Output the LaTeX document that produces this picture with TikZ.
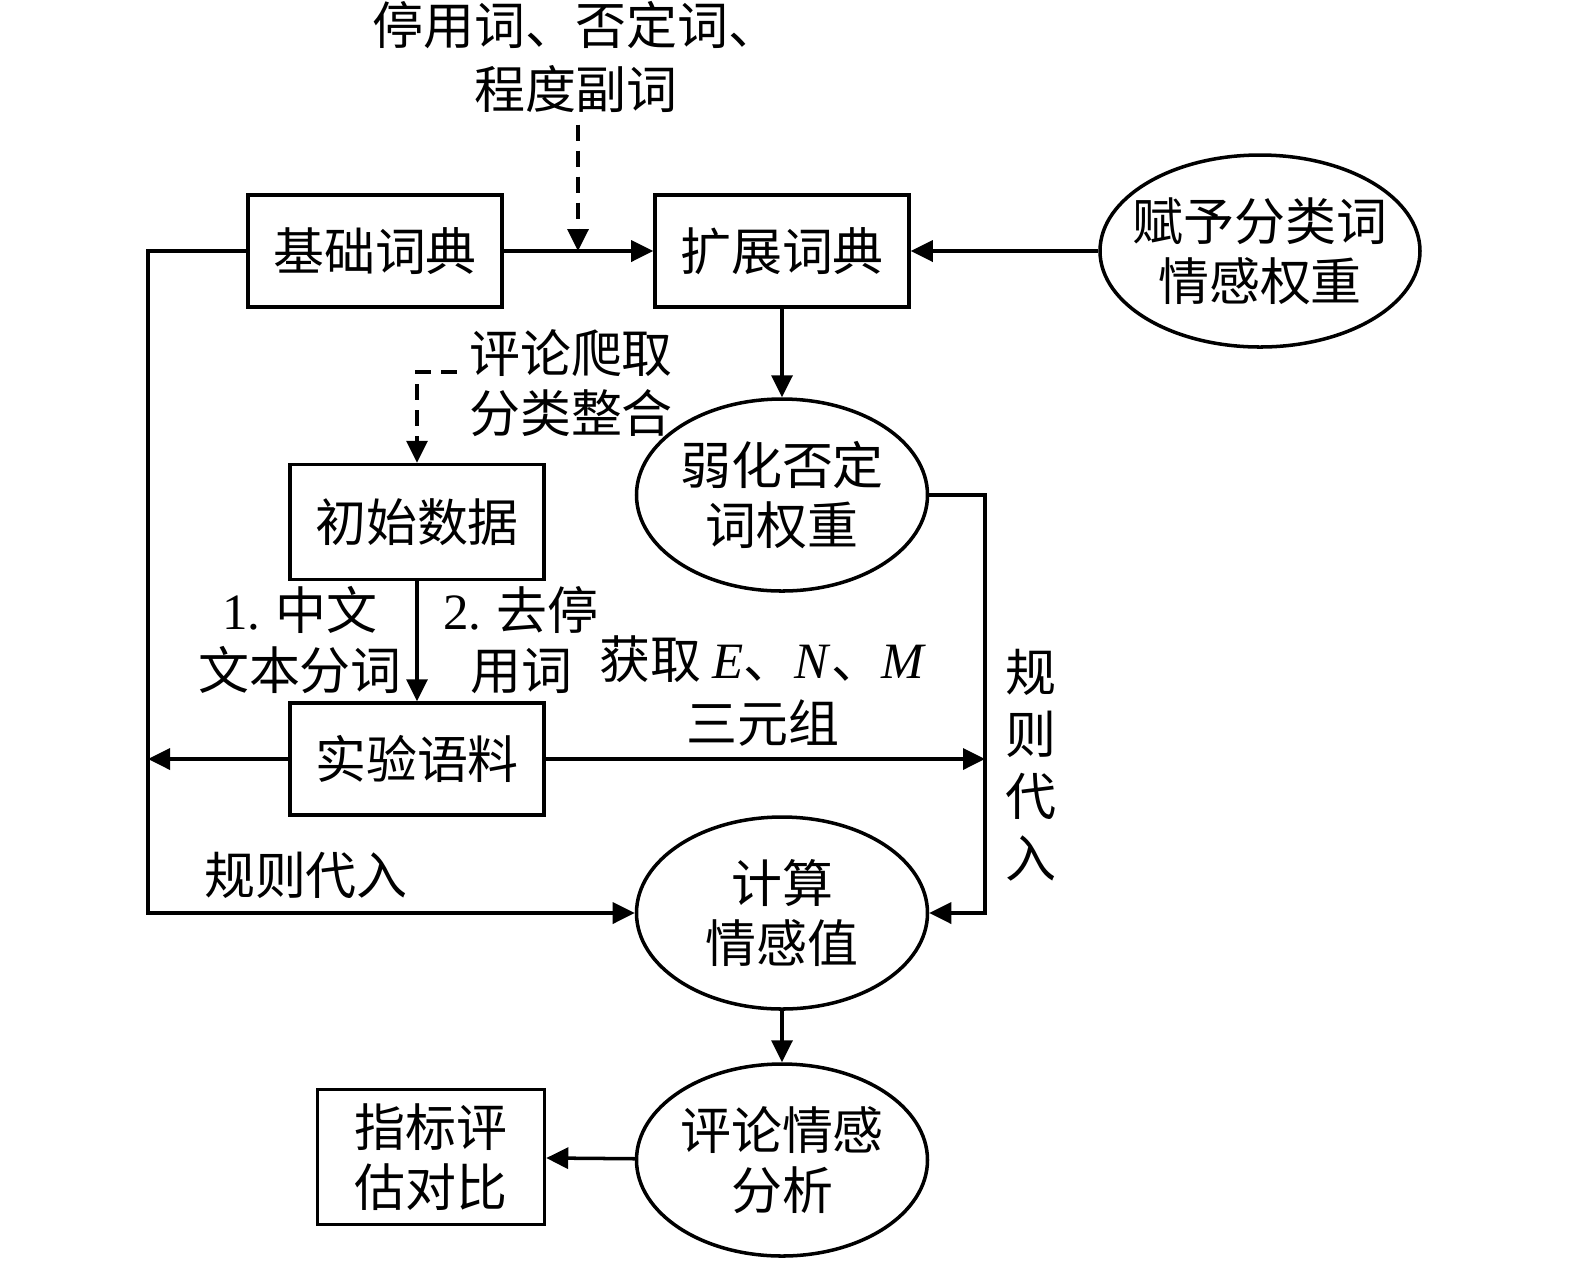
\documentclass[tikz,border=0pt]{standalone}
\usepackage{fontspec}
\setmainfont{Liberation Serif}
\newfontfamily\cjk{Noto Sans CJK SC}
\usetikzlibrary{shapes.geometric,arrows.meta}

\begin{document}
\begin{tikzpicture}[
	font=\cjk\fontsize{14.5pt}{17pt}\selectfont,
	box/.style={draw, line width=1pt, minimum width=2.54cm, minimum height=1.12cm, align=center},
	oval/.style={ellipse, draw, line width=1pt, minimum width=2.91cm, minimum height=1.92cm, inner xsep=-0.2cm, inner ysep=0pt, align=center},
	arr/.style={-{Triangle[length=0.22cm,width=0.21cm]}, line width=1pt},
	dasharr/.style={arr, dash pattern=on 0.16cm off 0.1cm}
]
	\useasboundingbox (0,0) rectangle (15.75,-12.63);

	\node[box] (n1) at (3.75,-2.51) {基础词典};
	\node[box] (n2) at (7.82,-2.51) {扩展词典};
	\node[oval, minimum width=3.2cm] (n3) at (12.60,-2.51) {赋予分类词\\情感权重};
	\node[box, minimum height=1.15cm] (n4) at (4.17,-5.22) {初始数据};
	\node[oval] (n5) at (7.82,-4.95) {弱化否定\\词权重};
	\node[box] (n6) at (4.17,-7.59) {实验语料};
	\node[oval] (n7) at (7.82,-9.13) {计算\\情感值};
	\node[oval] (n8) at (7.82,-11.60) {评论情感\\分析};
	\node[box, minimum width=2.27cm, minimum height=1.35cm] (n9) at (4.31,-11.57) {指标评\\估对比};

	\node[align=center, font=\cjk\fontsize{14.5pt}{18pt}\selectfont] (t1) at (5.76,-0.57) {停用词、否定词、\\程度副词};
	\node[align=center] (t2) at (5.71,-3.83) {评论爬取\\分类整合};
	\node[align=center] (t3) at (3.00,-6.40) {\textrm{1.} 中文\\文本分词};
	\node[align=center] (t4) at (5.21,-6.40) {\textrm{2.} 去停\\用词};
	\node[align=center, font=\cjk\fontsize{14.5pt}{18pt}\selectfont] (t5) at (7.63,-6.91) {获取 \textrm{\textit{E}}、\textrm{\textit{N}}、\textrm{\textit{M}}\\三元组};
	\node[align=center, font=\cjk\fontsize{14.5pt}{17.6pt}\selectfont] (t6) at (10.31,-7.65) {规\\则\\代\\入};
	\node (t7) at (3.06,-8.75) {规则代入};

	\coordinate (j1) at (5.78,-2.51);
	\coordinate (c1) at (1.48,-2.51);
	\coordinate (c2) at (9.85,-4.95);
	\coordinate (c3) at (4.17,-3.72);

	\draw[arr] (n1) -- (n2);
	\draw[arr] (n3) -- (n2);
	\draw[arr] (n2) -- (n5);
	\draw[arr] (n4) -- (n6);
	\draw[arr] (n7) -- (n8);
	\draw[arr] (n8) -- (n9);
	\draw[dasharr] (j1 |- t1.south) -- (j1);
	\draw[dasharr] (c3 -| t2.west) -- (c3) -- (n4);
	\draw[arr] (n1.west) -- (c1) |- (n7.west);
	\draw[arr] (n6.west) -- (n6.west -| c1);
	\draw[arr] (n5.east) -- (c2) |- (n7.east);
	\draw[arr] (n6.east) -- (n6.east -| c2);
\end{tikzpicture}
\end{document}
